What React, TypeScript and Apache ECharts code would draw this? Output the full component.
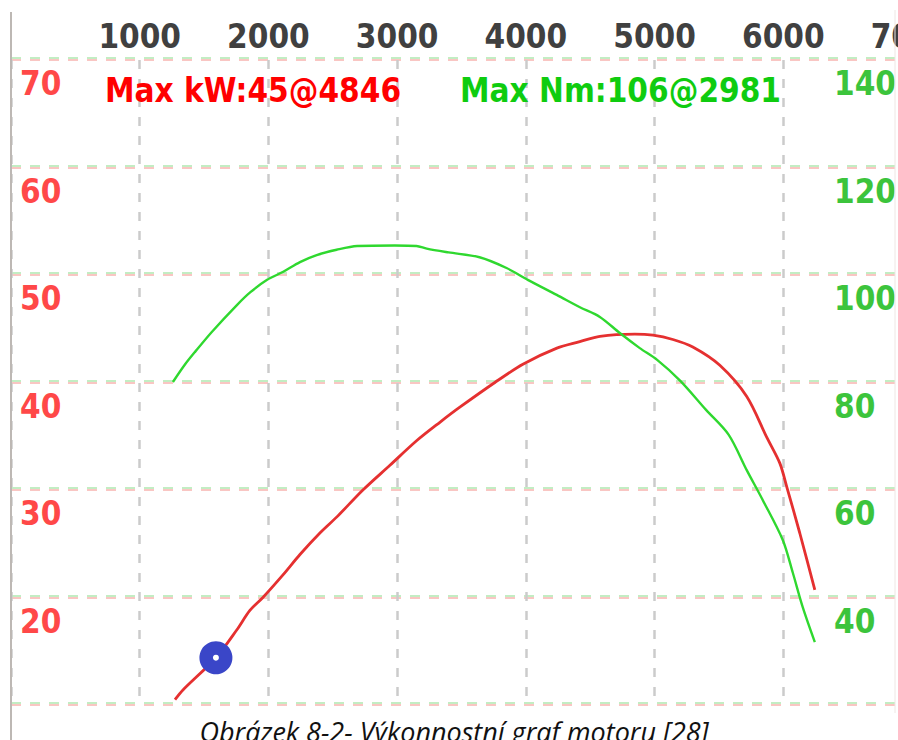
import React, { useEffect, useRef } from "react";
import * as echarts from "echarts";

// ---- data ----
const rpmTicks = [0, 1000, 2000, 3000, 4000, 5000, 6000, 7000];
const kwTicks = [10, 20, 30, 40, 50, 60, 70];
const nmTicks = [20, 40, 60, 80, 100, 120, 140];

const powerRpm = [1274, 1336, 1592, 1755, 1856, 1957, 2113, 2245, 2400, 2532, 2734, 2944, 3153, 3332, 3487, 3759, 3977, 4241, 4419, 4575, 4846, 4987, 5142, 5297, 5507, 5716, 5872, 5973, 6027, 6128, 6245];
const powerKw = [10.5, 11.4, 14.4, 17.0, 18.8, 20.0, 22.1, 24.0, 26.0, 27.5, 30.0, 32.3, 34.6, 36.3, 37.7, 40.0, 41.7, 43.2, 43.8, 44.3, 44.5, 44.4, 44.0, 43.3, 41.6, 38.7, 34.9, 32.5, 30.3, 26.0, 20.7];

const torqueRpm = [1258, 1350, 1430, 1560, 1755, 1860, 1990, 2115, 2245, 2375, 2530, 2690, 2981, 3150, 3230, 3400, 3640, 3850, 4015, 4240, 4420, 4575, 4730, 4885, 5020, 5200, 5400, 5575, 5716, 5841, 5996, 6074, 6151, 6245];
const torqueNm = [80.1, 83.3, 85.7, 89.4, 94.4, 96.8, 99.1, 100.6, 102.4, 103.7, 104.7, 105.4, 105.5, 105.4, 104.9, 104.2, 103.3, 101.3, 99.1, 96.3, 94.0, 92.2, 89.2, 86.4, 84.2, 80.3, 74.9, 70.3, 63.7, 58.1, 50.7, 44.6, 38.2, 31.7];

const markerRpm = [1592];
const markerKw = [14.4];

const maxKwText = "Max kW:45@4846";
const maxNmText = "Max Nm:106@2981";
const caption = "Obrázek 8-2- Výkonnostní graf motoru [28]";

const labelFont = "'DejaVu Sans Condensed', 'DejaVu Sans', sans-serif";
const plain = (v: number) => String(v);

export default function App() {
  const ref = useRef<HTMLDivElement>(null);

  useEffect(() => {
    if (!ref.current) return;
    const chart = echarts.init(ref.current, undefined, { renderer: "svg" });

    const powerData = powerRpm.map((r, i) => [r, powerKw[i]]);
    const torqueData = torqueRpm.map((r, i) => [r, torqueNm[i]]);
    const markerData = markerRpm.map((r, i) => [r, markerKw[i]]);

    const option: any = {
      animation: false,
      backgroundColor: "#ffffff",
      grid: [
        { left: 11, right: -14, top: 60, bottom: 35, containLabel: false, outerBoundsMode: "none" },
        { left: 11, right: -14, top: 58.2, bottom: 36.8, containLabel: false, outerBoundsMode: "none" },
      ],
      xAxis: [
        {
          type: "value",
          gridIndex: 0,
          position: "top",
          min: rpmTicks[0],
          max: rpmTicks[rpmTicks.length - 1],
          interval: 1000,
          axisLine: { show: false },
          axisTick: { show: false },
          axisLabel: {
            showMinLabel: false,
            formatter: plain,
            margin: 7,
            color: "#404040",
            fontSize: 33,
            fontWeight: "bold",
            fontFamily: labelFont,
          },
          splitLine: {
            show: true,
            lineStyle: { color: "#cbcbcb", width: 2.5, type: [9, 10] },
          },
        },
        {
          type: "value",
          gridIndex: 1,
          min: rpmTicks[0],
          max: rpmTicks[rpmTicks.length - 1],
          interval: 1000,
          axisLine: { show: false },
          axisTick: { show: false },
          axisLabel: { show: false },
          splitLine: { show: false },
        },
      ],
      yAxis: [
        {
          type: "value",
          gridIndex: 0,
          position: "left",
          min: kwTicks[0],
          max: kwTicks[kwTicks.length - 1],
          interval: 10,
          axisLine: { show: false },
          axisTick: { show: false },
          axisLabel: {
            inside: true,
            formatter: plain,
            margin: 9,
            color: "#ff4848",
            fontSize: 33,
            fontWeight: "bold",
            fontFamily: labelFont,
            verticalAlign: "top",
            padding: [7, 0, 0, 0],
          },
          splitLine: {
            show: true,
            lineStyle: { color: "#f8b4b0", width: 1.5, type: [10, 9] },
          },
        },
        {
          type: "value",
          gridIndex: 0,
          position: "right",
          min: nmTicks[0],
          max: nmTicks[nmTicks.length - 1],
          interval: 20,
          axisLine: { show: false },
          axisTick: { show: false },
          axisLabel: {
            inside: true,
            formatter: plain,
            align: "left",
            margin: 78,
            color: "#3cc43c",
            fontSize: 33,
            fontWeight: "bold",
            fontFamily: labelFont,
            verticalAlign: "top",
            padding: [7, 0, 0, 0],
          },
          splitLine: { show: false },
        },
        {
          type: "value",
          gridIndex: 1,
          min: kwTicks[0],
          max: kwTicks[kwTicks.length - 1],
          interval: 10,
          axisLine: { show: false },
          axisTick: { show: false },
          axisLabel: { show: false },
          splitLine: {
            show: true,
            lineStyle: { color: "#b0e8b0", width: 1.5, type: [10, 9] },
          },
        },
      ],
      series: [
        {
          name: "kW",
          type: "line",
          xAxisIndex: 0,
          yAxisIndex: 0,
          data: powerData,
          symbol: "none",
          smooth: 0.3,
          lineStyle: { color: "#e53030", width: 2.8 },
          z: 3,
        },
        {
          name: "Nm",
          type: "line",
          xAxisIndex: 0,
          yAxisIndex: 1,
          data: torqueData,
          symbol: "none",
          smooth: 0.3,
          lineStyle: { color: "#2fd82f", width: 2.4 },
          z: 3,
        },
        {
          name: "marker",
          type: "scatter",
          xAxisIndex: 0,
          yAxisIndex: 0,
          data: markerData,
          symbol: "circle",
          symbolSize: 33,
          itemStyle: { color: "#3a46c8", opacity: 1 },
          z: 5,
        },
        {
          name: "markerCenter",
          type: "scatter",
          xAxisIndex: 0,
          yAxisIndex: 0,
          data: markerData,
          symbol: "circle",
          symbolSize: 6,
          itemStyle: { color: "#ffffff", opacity: 1 },
          z: 6,
        },
      ],
      graphic: [
        {
          type: "text",
          z: 50,
          style: {
            text: maxKwText,
            x: 105,
            y: 90,
            textAlign: "left",
            textVerticalAlign: "middle",
            fill: "#ff0000",
            fontSize: 33,
            fontWeight: "bold",
            fontFamily: labelFont,
          },
        },
        {
          type: "text",
          z: 50,
          style: {
            text: maxNmText,
            x: 460,
            y: 90,
            textAlign: "left",
            textVerticalAlign: "middle",
            fill: "#0fcc0f",
            fontSize: 33,
            fontWeight: "bold",
            fontFamily: labelFont,
          },
        },
        {
          type: "rect",
          z: 90,
          shape: { x: 12, y: 713, width: 886, height: 30 },
          style: { fill: "#ffffff" },
        },
        {
          type: "line",
          z: 95,
          shape: { x1: 11, y1: 12, x2: 11, y2: 740 },
          style: { stroke: "#bdb8b4", lineWidth: 2 },
        },
        {
          type: "line",
          z: 95,
          shape: { x1: 895, y1: 10, x2: 895, y2: 713 },
          style: { stroke: "#efe6e4", lineWidth: 1 },
        },
        {
          type: "text",
          z: 100,
          style: {
            text: caption,
            x: 454,
            y: 731,
            textAlign: "center",
            textVerticalAlign: "middle",
            fill: "#111111",
            fontSize: 27,
            fontStyle: "italic",
            fontFamily: "'Open Sans', sans-serif",
          },
        },
      ],
    };

    chart.setOption(option);
    return () => chart.dispose();
  }, []);

  return (
    <div
      ref={ref}
      style={{ position: "absolute", left: 0, top: 0, width: 898, height: 740, overflow: "hidden" }}
    />
  );
}
